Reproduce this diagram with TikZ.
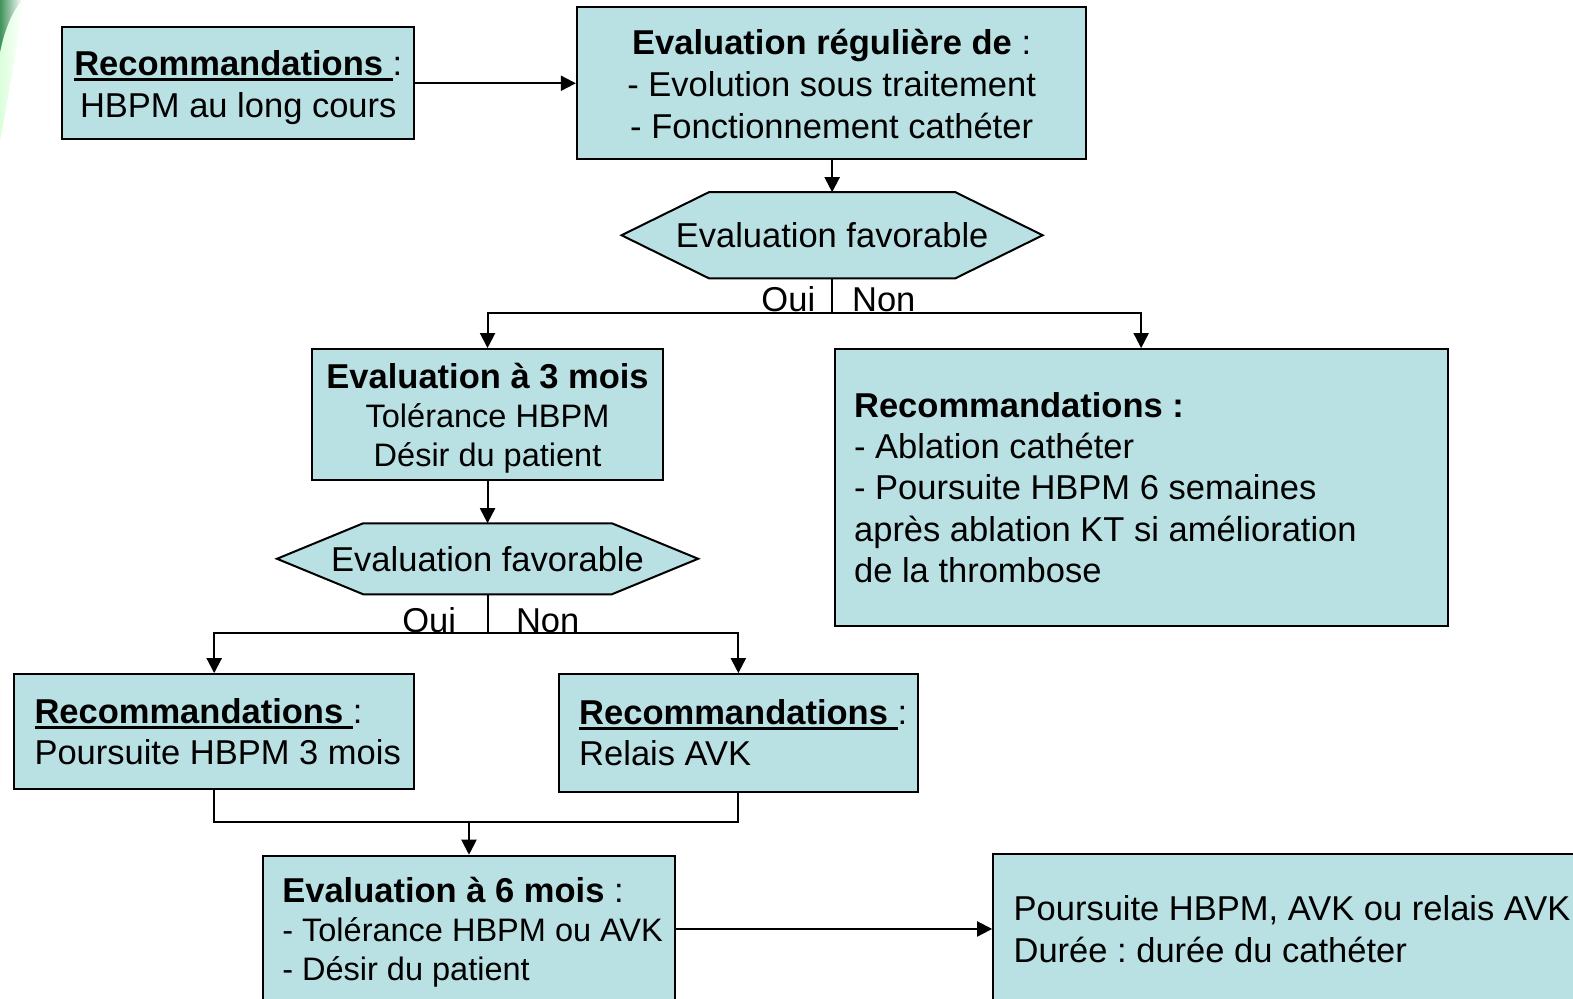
\documentclass[tikz,border=0pt]{standalone}
\usepackage{fontspec}
\setmainfont{Liberation Sans}
\usetikzlibrary{arrows.meta,backgrounds,calc}
\definecolor{boxfill}{RGB}{185,224,227}
\definecolor{gdark}{RGB}{25,120,60}
\newcommand\fsz[1]{\fontsize{17.2pt}{#1}\selectfont}
\newcommand\smfs{\fontsize{16.2pt}{19.5pt}\selectfont}
\newcommand\myul[1]{\setbox0\hbox{#1}\rlap{\rule[-2.8pt]{\wd0}{1.5pt}}\box0}
\frenchspacing
\begin{document}
\begin{tikzpicture}[x=0.5pt,y=-0.5pt,
  box/.style={draw=black, line width=1pt, fill=boxfill, inner sep=0pt},
  hexpath/.style={draw=black, line width=1pt, fill=boxfill, line join=miter},
  txt/.style={inner sep=0pt, align=left, anchor=west},
  ctxt/.style={inner sep=0pt, align=center},
  arr/.style={line width=1pt, -{Triangle[length=7.5pt,width=7.5pt]}},
  ln/.style={line width=1pt},
  lbl/.style={inner sep=0pt, font=\fsz{21pt}}]
\clip (0,0) rectangle (1568,995);
% background decoration
\shade[left color=green!14, right color=white] (0,0) -- (24,0) .. controls (16,50) and (8,100) .. (0,140) -- cycle;
\shade[left color=gdark, right color=white, opacity=0.8] (0,0) -- (22,0) .. controls (12,12) and (5,28) .. (0,52) -- cycle;

% boxes
\node[box, minimum width=175.5pt, minimum height=56pt] (b1) at (237.5,83) {};
\node[ctxt, font=\fsz{21pt}] (b1t) at ([yshift=-2pt]b1.center)
  {\myul{\textbf{Recommandations }}:\\HBPM au long cours};
\node[box, minimum width=254pt, minimum height=75.5pt] (b2) at (829,82.5) {};
\node[ctxt, font=\fsz{21pt}] (b2t) at ([yshift=-0.5pt]b2.center)
  {\textbf{Evaluation régulière de} :\\- Evolution sous traitement\\- Fonctionnement cathéter};
\node[inner sep=0pt, font=\fsz{21pt}, minimum width=209.5pt, minimum height=42.5pt] (h1) at (829.5,234.5) {Evaluation favorable};
\node[box, minimum width=175pt, minimum height=65pt] (b3) at (486,413) {};
\node[ctxt, font=\fsz{19.5pt}] (b3t) at ([yshift=-2pt]b3.center)
  {\textbf{Evaluation à 3 mois}\\\smfs Tolérance HBPM\\\smfs Désir du patient};
\node[box, minimum width=305.5pt, minimum height=138pt] (b4) at (1137.5,486) {};
\node[txt, font=\fsz{20.6pt}] (b4t) at ([xshift=10pt]b4.west)
  {\textbf{Recommandations :}\\- Ablation cathéter\\- Poursuite HBPM 6 semaines\\après ablation KT si amélioration\\de la thrombose};
\node[inner sep=0pt, font=\fsz{21pt}, minimum width=209.5pt, minimum height=35pt] (h2) at (486,557) {Evaluation favorable};
\node[box, minimum width=199.5pt, minimum height=57pt] (b5) at (213.5,729) {};
\node[txt, font=\fsz{20.5pt}] (b5t) at ([xshift=10.5pt]b5.west)
  {\myul{\textbf{Recommandations }}:\\Poursuite HBPM 3 mois};
\node[box, minimum width=179pt, minimum height=58.5pt] (b6) at (736,730.5) {};
\node[txt, font=\fsz{20.5pt}] (b6t) at ([xshift=10.5pt]b6.west)
  {\myul{\textbf{Recommandations }}:\\Relais AVK};
\node[box, minimum width=205.5pt, minimum height=73pt] (b7) at (467.5,926) {};
\node[txt, font=\fsz{19.5pt}] (b7t) at ([xshift=10pt,yshift=-1.5pt]b7.west)
  {\textbf{Evaluation à 6 mois} :\\\smfs - Tolérance HBPM ou AVK\\\smfs - Désir du patient};
\node[box, minimum width=305pt, minimum height=75pt] (b8) at (1295,926) {};
\node[txt, font=\fsz{21pt}] (b8t) at ([xshift=10.5pt]b8.west)
  {Poursuite HBPM, AVK ou relais AVK\\Durée : durée du cathéter};

\begin{scope}[on background layer]
\path[hexpath] (h1.west) -- ([xshift=43.5pt]h1.north west) -- ([xshift=-43.5pt]h1.north east) -- (h1.east)
  -- ([xshift=-43.5pt]h1.south east) -- ([xshift=43.5pt]h1.south west) -- cycle;
\path[hexpath] (h2.west) -- ([xshift=43pt]h2.north west) -- ([xshift=-43pt]h2.north east) -- (h2.east)
  -- ([xshift=-43pt]h2.south east) -- ([xshift=43pt]h2.south west) -- cycle;
\end{scope}

% labels
\coordinate (j1) at (829.5,312);
\coordinate (j2) at (486,631);
\coordinate (j3) at (467.5,819);
\node[lbl, anchor=base east] (oui1) at (813,311) {Oui};
\node[lbl, anchor=base west] (non1) at (849,311) {Non};
\node[lbl, anchor=base east] (oui2) at (455,630) {Oui};
\node[lbl, anchor=base west] (non2) at (514,630) {Non};

% connectors
\draw[arr] (b1.east) -- (b1.east -| b2.west);
\draw[arr] (b2.south -| h1.north) -- (h1.north);
\draw[ln] (h1.south) -- (j1);
\draw[arr] (j1) -| (b3.north);
\draw[arr] (j1) -| (b4.north);
\draw[arr] (b3.south) -- (h2.north);
\draw[ln] (h2.south) -- (j2);
\draw[arr] (j2) -| (b5.north);
\draw[arr] (j2) -| (b6.north);
\draw[ln] (b5.south) |- (j3) -| (b6.south);
\draw[arr] (j3) -- (b7.north);
\draw[arr] (b7.east) -- (b7.east -| b8.west);
\end{tikzpicture}
\end{document}
